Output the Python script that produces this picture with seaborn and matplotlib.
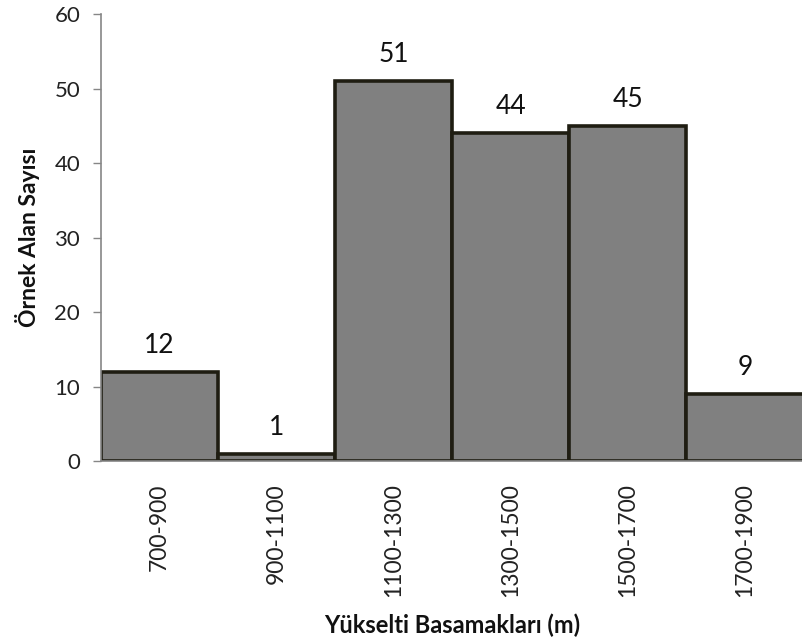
import matplotlib
matplotlib.use("Agg")
import matplotlib.pyplot as plt
import seaborn as sns
import pandas as pd

# Elevation classes and number of sample sites per class
categories = ["700-900", "900-1100", "1100-1300", "1300-1500", "1500-1700", "1700-1900"]
counts = [12, 1, 51, 44, 45, 9]
y_ticks = [0, 10, 20, 30, 40, 50, 60]

df = pd.DataFrame({"class": categories, "count": counts})

sns.set_theme(style="white")
plt.rcParams["font.family"] = ["Lato", "DejaVu Sans"]

fig = plt.figure(figsize=(8.02, 6.41), dpi=100)
ax = fig.add_axes([0.1259, 0.2808, 0.876, 0.6972])

sns.barplot(data=df, x="class", y="count", order=categories, width=1.0,
            color="#808080", saturation=1, edgecolor="#1f1d12", linewidth=2.6,
            ax=ax)

ax.set_ylim(0, 60)
ax.set_xlim(-0.5, 5.5)
ax.set_yticks(y_ticks)
ax.tick_params(axis="y", left=True, length=6, width=1, color="#868686",
               labelsize=16, labelcolor="#222222", pad=9)
ax.tick_params(axis="x", bottom=False, labelsize=16.5, labelcolor="#222222",
               rotation=90, pad=10)

for bar, v in zip(ax.patches, counts):
    ax.annotate(str(v), (bar.get_x() + bar.get_width() / 2, v),
                xytext=(0, 10), textcoords="offset points",
                ha="center", va="bottom", fontsize=19, color="#111111")

for s in ["top", "right"]:
    ax.spines[s].set_visible(False)
for s in ["left", "bottom"]:
    ax.spines[s].set_color("#868686")
    ax.spines[s].set_linewidth(1.2)

ax.set_xlabel("Yükselti Basamakları (m)", fontsize=17, fontweight="bold",
              color="#111111", labelpad=12)
ax.set_ylabel("Örnek Alan Sayısı", fontsize=16.5, fontweight="bold",
              color="#111111", labelpad=10)

fig.savefig("out.png", dpi=100)
